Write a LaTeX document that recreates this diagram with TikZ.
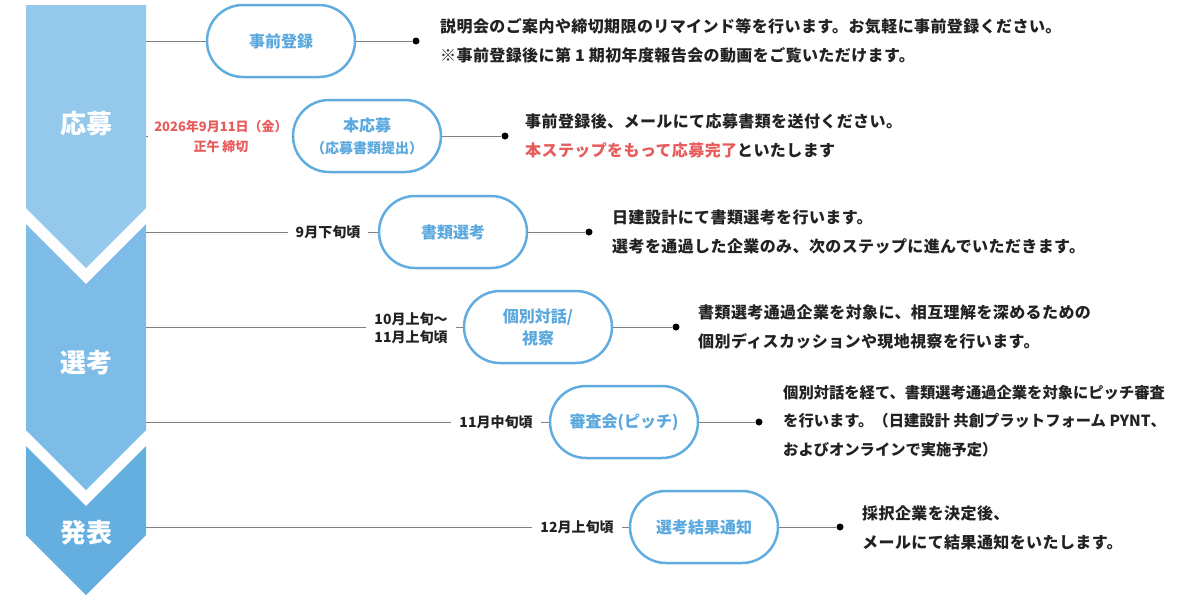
\documentclass[tikz,border=0pt]{standalone}
\usepackage{fontspec}
\setmainfont{Noto Sans CJK JP}
\newfontfamily\descfont[LetterSpace=2.5]{Noto Sans CJK JP}
\definecolor{cA}{HTML}{94C9EC}
\definecolor{cB}{HTML}{7CBCE6}
\definecolor{cC}{HTML}{64AFE0}
\definecolor{pillc}{HTML}{62ADE0}
\definecolor{pilltext}{HTML}{5AA8DD}
\definecolor{redc}{HTML}{E85B5B}
\definecolor{linec}{HTML}{808080}
\definecolor{txt}{HTML}{222222}
\begin{document}
\begin{tikzpicture}[x=1pt,y=-1pt,
 pill/.style={draw=pillc, line width=2.5pt, rounded corners=36pt, minimum width=148pt, minimum height=72pt, text=pilltext, font=\fontsize{16}{22}\selectfont\bfseries, align=center, inner sep=0pt},
 desc/.style={anchor=west, align=left, text=txt, font=\descfont\fontsize{16}{28.5}\selectfont\bfseries, inner sep=0pt},
 datel/.style={font=\fontsize{14}{18}\selectfont\bfseries, text=txt, inner xsep=8pt, inner ysep=0pt, align=center},
 conn/.style={draw=linec, line width=1pt},
 dotn/.style={circle, fill=black, minimum size=7pt, inner sep=0pt},
 stage/.style={text=white, font=\fontsize{26}{30}\selectfont\bfseries}]
\useasboundingbox (0,0) rectangle (1200,600);
% chevrons
\fill[cA] (26,5) -- (146,5) -- (146,208) -- (86,268) -- (26,208) -- cycle;
\fill[cB] (26,224) -- (86,284) -- (146,224) -- (146,430) -- (86,490) -- (26,430) -- cycle;
\fill[cC] (26,446) -- (86,506) -- (146,446) -- (146,535) -- (86,595) -- (26,535) -- cycle;
\node[stage] (s1) at (86,124) {応募};
\node[stage] (s2) at (86,363) {選考};
\node[stage] (s3) at (86,533) {発表};
% edge coordinates
\coordinate (e1) at (146,41);
\coordinate (e2) at (146,136);
\coordinate (e3) at (146,232);
\coordinate (e4) at (146,327);
\coordinate (e5) at (146,422);
\coordinate (e6) at (146,527);
% pills
\node[pill] (p1) at (281,41) {事前登録};
\node[pill] (p2) at (367,136) {本応募\\{\fontsize{14}{20}\selectfont （応募書類提出）}};
\node[pill] (p3) at (453,232) {書類選考};
\node[pill] (p4) at (538,327) {個別対話/\\視察};
\node[pill] (p5) at (624,422) {審査会(ピッチ)};
\node[pill] (p6) at (704,527) {選考結果通知};
% dates
\node[datel, text=redc, font=\fontsize{13}{20}\selectfont\bfseries, inner xsep=6pt] (t2) at (221,137) {2026年9月11日（金）\\正午 締切};
\node[datel] (t3) at (328,232) {9月下旬頃};
\node[datel] (t4) at (411,328) {10月上旬～\\11月上旬頃};
\node[datel] (t5) at (496,422) {11月中旬頃};
\node[datel] (t6) at (577,527) {12月上旬頃};
% dots
\node[dotn] (d1) at (416,41) {};
\node[dotn] (d2) at (505,136) {};
\node[dotn] (d3) at (589,232) {};
\node[dotn] (d4) at (676,327) {};
\node[dotn] (d5) at (759,422) {};
\node[dotn] (d6) at (840,527) {};
% connectors
\draw[conn] (e1) -- (p1.west);
\draw[conn] (p1.east) -- (d1);
\draw[conn] (e2) -- (e2 -| t2.west);
\draw[conn] (e2 -| t2.east) -- (p2.west);
\draw[conn] (p2.east) -- (d2);
\draw[conn] (e3) -- (t3.west);
\draw[conn] (t3.east) -- (p3.west);
\draw[conn] (p3.east) -- (d3);
\draw[conn] (e4) -- (e4 -| t4.west);
\draw[conn] (e4 -| t4.east) -- (p4.west);
\draw[conn] (p4.east) -- (d4);
\draw[conn] (e5) -- (t5.west);
\draw[conn] (t5.east) -- (p5.west);
\draw[conn] (p5.east) -- (d5);
\draw[conn] (e6) -- (t6.west);
\draw[conn] (t6.east) -- (p6.west);
\draw[conn] (p6.east) -- (d6);
% descriptions
\node[desc] (x1) at (440,41) {説明会のご案内や締切期限のリマインド等を行います。お気軽に事前登録ください。\\※事前登録後に第 1 期初年度報告会の動画をご覧いただけます。};
\node[desc] (x2) at (525,136) {事前登録後、メールにて応募書類を送付ください。\\\textcolor{redc}{本ステップをもって応募完了}といたします};
\node[desc] (x3) at (612,232) {日建設計にて書類選考を行います。\\選考を通過した企業のみ、次のステップに進んでいただきます。};
\node[desc] (x4) at (698,327) {書類選考通過企業を対象に、相互理解を深めるための\\個別ディスカッションや現地視察を行います。};
\node[desc, font=\fontsize{15.3}{28.5}\selectfont\bfseries] (x5) at (783,421) {個別対話を経て、書類選考通過企業を対象にピッチ審査\\を行います。（日建設計 共創プラットフォーム PYNT、\\およびオンラインで実施予定）};
\node[desc] (x6) at (862,528) {採択企業を決定後、\\メールにて結果通知をいたします。};
\end{tikzpicture}
\end{document}
